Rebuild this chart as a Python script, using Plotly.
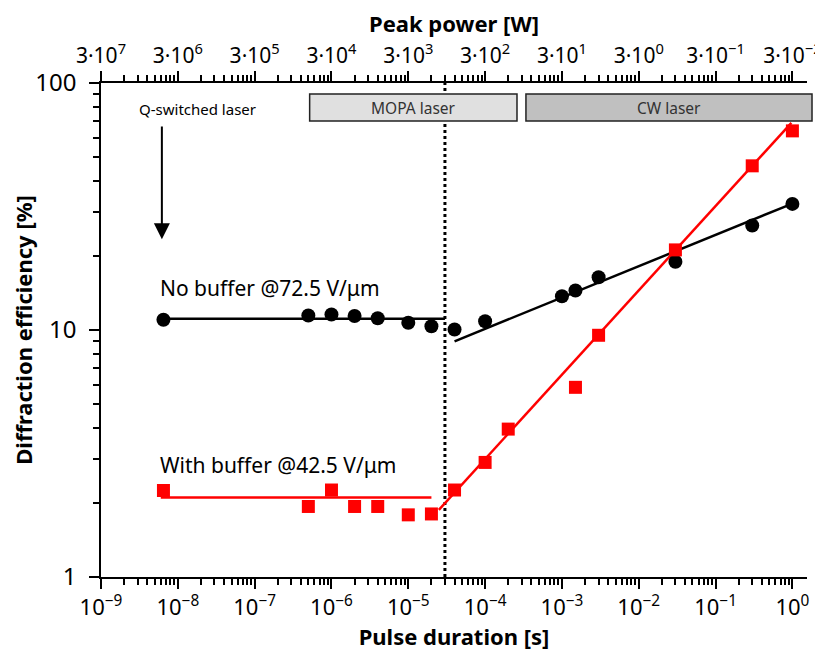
import numpy as np
import plotly.graph_objects as go

# ---------------- data ----------------
t_no_buffer = [6.5e-9, 5e-7, 1e-6, 2e-6, 4e-6, 1e-5, 2e-5, 4e-5, 1e-4,
               1e-3, 1.5e-3, 3e-3, 3e-2, 0.3, 1.0]
eff_no_buffer = [11.0, 11.45, 11.55, 11.4, 11.15, 10.7, 10.35, 10.05, 10.85,
                 13.7, 14.45, 16.35, 18.9, 26.5, 32.4]

t_buffer = [6.5e-9, 5e-7, 1e-6, 2e-6, 4e-6, 1e-5, 2e-5, 4e-5, 1e-4,
            2e-4, 1.5e-3, 3e-3, 3e-2, 0.3, 1.0]
eff_buffer = [2.24, 1.93, 2.25, 1.93, 1.93, 1.785, 1.80, 2.25, 2.91,
              3.97, 5.86, 9.52, 21.1, 46.2, 64.0]

# fitted lines
nb_flat_t = [6.5e-9, 3e-5]
nb_flat_eff = [11.1, 11.1]
nb_fit_t = [4e-5, 0.93]
nb_fit_eff = [9.0, 32.2]
b_flat_t = [6e-9, 2e-5]
b_flat_eff = [2.1, 2.1]
b_fit_t = [2.5e-5, 0.97]
b_fit_eff = [1.87, 69.0]

# regime separator
t_separator = 3e-5

# laser regime boxes (pulse duration extents, efficiency extents)
mopa_box_t = [5.2e-7, 2.6e-4]
cw_box_t = [3.4e-4, 1.8]
box_eff = [70.2, 90.2]

# tick positions / labels
exponents = list(range(-9, 1))
x_ticks = [10.0 ** k for k in exponents]
def sup(n):
    return str(n).replace("-", "−")
x_tick_text = [f"10<sup>{sup(k)}</sup>" for k in exponents]
peak_tick_text = [f"3·10<sup>{sup(-2 - k)}</sup>" for k in exponents]
x_minor = [m * 10.0 ** k for k in exponents for m in range(2, 10)]
y_ticks = [1, 10, 100]
y_tick_text = ["1", "10", "100"]
y_minor = [m * 10.0 ** k for k in range(0, 2) for m in range(2, 10)]

X_RANGE = [-9, 0.19]
Y_RANGE = [0, 2]

FONT = "Noto Sans"

def xp(t):
    return (np.log10(t) - X_RANGE[0]) / (X_RANGE[1] - X_RANGE[0])

def yp(v):
    return (np.log10(v) - Y_RANGE[0]) / (Y_RANGE[1] - Y_RANGE[0])

fig = go.Figure()

# separator
fig.add_trace(go.Scatter(x=[t_separator, t_separator], y=[1, 100], mode="lines",
                         line=dict(color="black", width=3, dash="dot"),
                         showlegend=False, hoverinfo="skip"))

# lines
for tx, ty, col in [(nb_flat_t, nb_flat_eff, "black"), (nb_fit_t, nb_fit_eff, "black"),
                    (b_flat_t, b_flat_eff, "#ff0000"), (b_fit_t, b_fit_eff, "#ff0000")]:
    fig.add_trace(go.Scatter(x=tx, y=ty, mode="lines", line=dict(color=col, width=2.5),
                             showlegend=False, hoverinfo="skip"))

fig.add_trace(go.Scatter(x=t_no_buffer, y=eff_no_buffer, mode="markers",
                         marker=dict(symbol="circle", size=14, color="black"),
                         name="No buffer", showlegend=False))
fig.add_trace(go.Scatter(x=t_buffer, y=eff_buffer, mode="markers",
                         marker=dict(symbol="square", size=13, color="#ff0000"),
                         name="With buffer", showlegend=False))

# dummy trace for top axis
fig.add_trace(go.Scatter(x=x_ticks, y=[None] * len(x_ticks), xaxis="x2", yaxis="y",
                         mode="markers", showlegend=False, hoverinfo="skip"))

# boxes
shapes = []
annotations = []
for (t0, t1), fill, label in [(mopa_box_t, "#e0e0e0", "MOPA laser"),
                              (cw_box_t, "#c0c0c0", "CW laser")]:
    shapes.append(dict(type="rect", xref="paper", yref="paper",
                       x0=xp(t0), x1=xp(t1), y0=yp(box_eff[0]), y1=yp(box_eff[1]),
                       fillcolor=fill, line=dict(color="#222222", width=1.5),
                       layer="above"))
    annotations.append(dict(xref="paper", yref="paper",
                            x=(xp(t0) + xp(t1)) / 2,
                            y=(yp(box_eff[0]) + yp(box_eff[1])) / 2,
                            xanchor="center", yanchor="middle",
                            text=label, showarrow=False,
                            font=dict(family=FONT, size=15.5, color="#333333")))

annotations.append(dict(xref="x", yref="y", x=np.log10(1.8e-8), y=np.log10(78.4),
                        xanchor="center", yanchor="middle",
                        text="Q-switched laser", showarrow=False,
                        font=dict(family=FONT, size=15, color="black")))
annotations.append(dict(xref="x", yref="y", axref="x", ayref="y",
                        x=np.log10(6.2e-9), y=np.log10(23.3),
                        ax=np.log10(6.2e-9), ay=np.log10(67.6),
                        text="", showarrow=True, arrowhead=2, arrowsize=1.6,
                        arrowwidth=2, arrowcolor="black"))
annotations.append(dict(xref="x", yref="y", x=np.log10(5.5e-9), y=np.log10(14.8),
                        xanchor="left", yanchor="middle",
                        text="No buffer @72.5 V/μm", showarrow=False,
                        font=dict(family=FONT, size=21, color="black")))
annotations.append(dict(xref="x", yref="y", x=np.log10(5.5e-9), y=np.log10(2.84),
                        xanchor="left", yanchor="middle",
                        text="With buffer @42.5 V/μm", showarrow=False,
                        font=dict(family=FONT, size=21, color="black")))

axis_common = dict(type="log", showgrid=False, zeroline=False, showline=True,
                   linecolor="black", linewidth=1.5, ticks="outside", ticklen=10,
                   tickwidth=1.5, tickcolor="black", automargin=False)

# the page body adds an 8 px offset; the figure is sized so the plot area
# lands at x 101..807, y 83..577 of the window
fig.update_layout(
    width=815, height=645,
    margin=dict(l=93, r=16, t=75, b=76),
    paper_bgcolor="white", plot_bgcolor="white",
    showlegend=False,
    shapes=shapes, annotations=annotations,
    xaxis=dict(**axis_common, range=X_RANGE, tickmode="array", tickvals=x_ticks,
               ticktext=x_tick_text,
               tickfont=dict(family=FONT, size=22, color="black"),
               minor=dict(tickmode="array", tickvals=x_minor, ticks="outside",
                          ticklen=6, tickwidth=1.5, tickcolor="black"),
               title=dict(text="<b>Pulse duration [s]</b>",
                          font=dict(family=FONT, size=22, color="black"), standoff=2)),
    xaxis2=dict(**axis_common, range=X_RANGE, overlaying="x", side="top",
                tickmode="array", tickvals=x_ticks, ticktext=peak_tick_text,
                tickfont=dict(family=FONT, size=21, color="black"),
                minor=dict(tickmode="array", tickvals=x_minor, ticks="outside",
                           ticklen=6, tickwidth=1.5, tickcolor="black"),
                title=dict(text="<b>Peak power [W]</b>",
                           font=dict(family=FONT, size=22, color="black"), standoff=9)),
    yaxis=dict(**axis_common, range=Y_RANGE, tickmode="array", tickvals=y_ticks,
               ticktext=y_tick_text, ticklabelstandoff=8,
               tickfont=dict(family=FONT, size=24, color="black"),
               minor=dict(tickmode="array", tickvals=y_minor, ticks="outside",
                          ticklen=6, tickwidth=1.5, tickcolor="black"),
               title=dict(text="<b>Diffraction efficiency [%]</b>",
                          font=dict(family=FONT, size=22, color="black"), standoff=4)),
)

fig.write_html("out.html")
